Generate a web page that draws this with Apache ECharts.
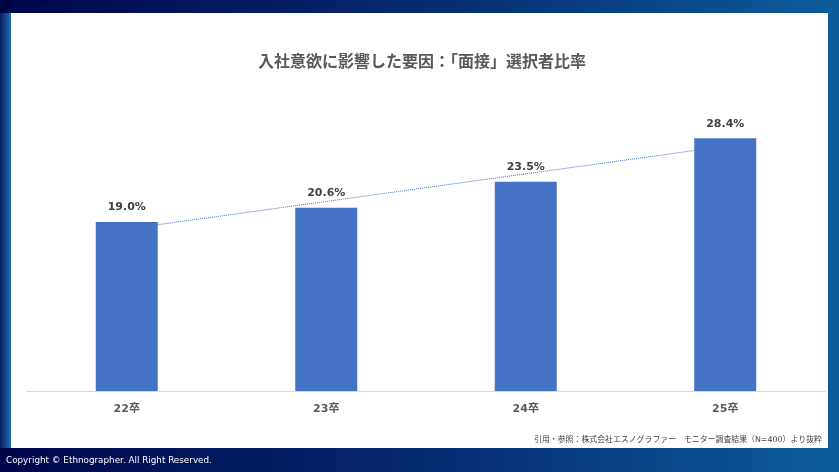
<!DOCTYPE html>
<html><head><meta charset="utf-8">
<style>html,body{margin:0;padding:0;background:#000845;}#c{width:839px;height:472px;}</style>
<script src="https://cdn.jsdelivr.net/npm/echarts@6/dist/echarts.min.js"></script>
</head><body><div id="c"></div>
<script>
const categories = ['22卒', '23卒', '24卒', '25卒'];
const rates = [19.0, 20.6, 23.5, 28.4];
const trendValues = [18.2, null, null, 27.5];
const titleText = '入社意欲に影響した要因：「面接」選択者比率';
const sourceText = '引用・参照：株式会社エスノグラファー　モニター調査結果（N=400）より抜粋';
const copyrightText = 'Copyright © Ethnographer. All Right Reserved.';

const FONT = '"DejaVu Sans", "Noto Sans CJK JP", sans-serif';
const chart = echarts.init(document.getElementById('c'));
chart.setOption({
  animation: false,
  graphic: [
    { type: 'rect', z: -10, shape: { x: 0, y: 0, width: 839, height: 472 },
      style: { fill: new echarts.graphic.LinearGradient(0, 0, 1, 0, [
        { offset: 0, color: '#00054a' }, { offset: 0.5, color: '#052a70' }, { offset: 1, color: '#0c5c9c' }]) } },
    { type: 'rect', z: -9, shape: { x: 0, y: 13, width: 11, height: 435 },
      style: { fill: new echarts.graphic.LinearGradient(0, 0, 1, 0, [
        { offset: 0, color: '#0a1a5c' }, { offset: 1, color: '#1b72b2' }]) } },
    { type: 'rect', z: -8, shape: { x: 11, y: 13, width: 817, height: 435 },
      style: { fill: '#ffffff' } },
    { type: 'text', z: 10, left: 6, top: 456,
      style: { text: copyrightText, fill: '#ffffff', font: '8.8px ' + FONT } },
    { type: 'text', z: 10, right: 17, top: 436,
      style: { text: sourceText, fill: '#404040', font: '7.9px ' + FONT } }
  ],
  title: {
    text: titleText, left: 253, top: 50,
    textStyle: { fontFamily: FONT, fontSize: 16, fontWeight: 'bold', color: '#595959' }
  },
  grid: { left: 27, width: 798, top: 124, bottom: 81 },
  xAxis: {
    type: 'category', data: categories,
    axisLine: { lineStyle: { color: '#d9d9d9' } },
    axisTick: { show: false },
    axisLabel: { color: '#595959', fontFamily: FONT, fontSize: 11, fontWeight: 'bold', margin: 13 }
  },
  yAxis: { type: 'value', min: 0, max: 30, show: false, splitLine: { show: false } },
  series: [
    { type: 'line', data: trendValues, connectNulls: true, symbol: 'none', z: 1,
      lineStyle: { color: '#4472C4', width: 1, type: 'dotted' } },
    { type: 'bar', data: rates, barWidth: 62, z: 2,
      itemStyle: { color: '#4472C4' },
      label: { show: true, position: 'top', distance: 9, color: '#404040',
        fontFamily: FONT, fontSize: 11, fontWeight: 'bold',
        formatter: p => p.value.toFixed(1) + '%' } }
  ]
});
</script></body></html>
